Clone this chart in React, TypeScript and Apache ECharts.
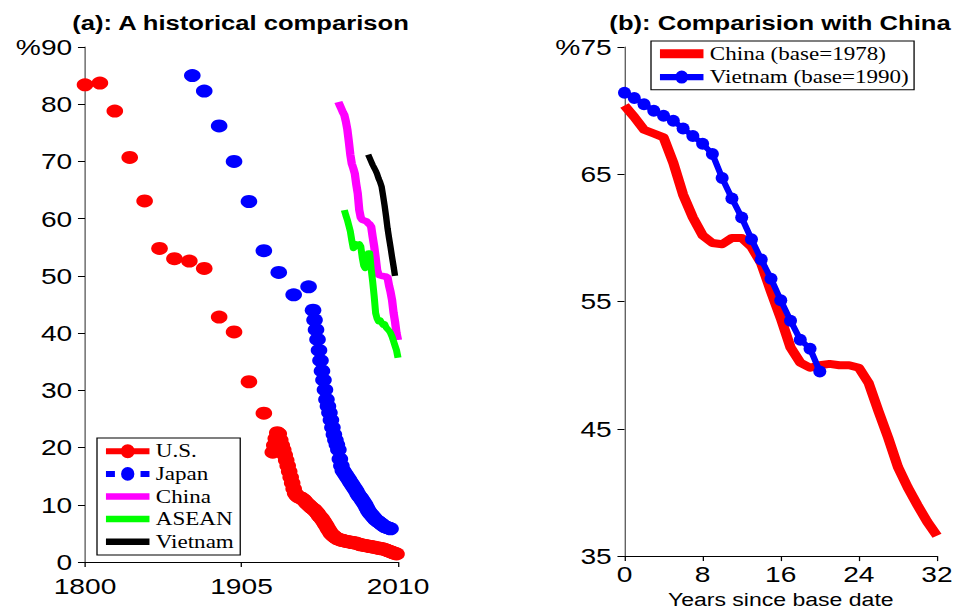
import React, { useEffect, useRef } from "react";
import * as echarts from "echarts";

// ---------------- data ----------------
// Panel (a): share (%) by calendar year
const usDecadeYears = [1800, 1810, 1820, 1830, 1840, 1850, 1860, 1870, 1880, 1890, 1900, 1910, 1920];
const usDecadeValues = [83.4, 83.7, 78.8, 70.7, 63.1, 54.8, 53.0, 52.6, 51.3, 42.8, 40.2, 31.5, 26.0];
const usAnnualStart = 1926;
const usAnnualValues = [
  19.2, 20.4, 21.6, 22.6, 22.4, 21.3, 20.4, 19.6, 18.7, 17.8,
  16.8, 15.8, 14.8, 13.8, 12.8, 12.0, 11.6, 11.4, 11.3, 11.2,
  11.0, 10.8, 10.5, 10.2, 10.0, 9.7, 9.5, 9.3, 9.1, 8.8,
  8.5, 8.1, 7.8, 7.5, 7.1, 6.7, 6.3, 5.8, 5.4, 5.0,
  4.7, 4.5, 4.3, 4.1, 4.0, 3.9, 3.8, 3.8, 3.7, 3.6,
  3.6, 3.5, 3.5, 3.4, 3.4, 3.3, 3.3, 3.2, 3.1, 3.0,
  3.0, 2.9, 2.9, 2.8, 2.8, 2.7, 2.7, 2.6, 2.6, 2.5,
  2.5, 2.4, 2.4, 2.3, 2.3, 2.2, 2.1, 2.0, 1.9, 1.8,
  1.7, 1.6, 1.5, 1.4,
];
const japanEarlyYears = [1872, 1880, 1890, 1900, 1910, 1920, 1930, 1940, 1950];
const japanEarlyValues = [85.0, 82.3, 76.2, 70.0, 63.0, 54.4, 50.6, 46.7, 48.1];
const japanAnnualStart = 1953;
const japanAnnualValues = [
  44.0, 42.3, 40.6, 38.9, 37.0, 35.2, 33.4, 31.8, 30.1, 28.4,
  27.2, 26.1, 24.8, 23.5, 22.3, 21.3, 20.5, 19.6, 18.0, 16.8,
  16.0, 15.6, 15.2, 14.8, 14.4, 14.0, 13.6, 13.2, 12.8, 12.4,
  11.9, 11.5, 11.2, 10.8, 10.4, 10.0, 9.5, 9.0, 8.6, 8.3,
  8.0, 7.7, 7.4, 7.2, 7.0, 6.8, 6.6, 6.4, 6.2, 6.1,
  6.0, 5.9, 5.8,
];
const chinaHistStart = 1970;
const chinaHistValues = [
  80.4, 79.8, 79.2, 78.6, 78.1, 77.0, 75.6, 73.5, 71.2, 69.6,
  68.8, 67.9, 66.0, 64.4, 61.5, 60.2, 59.8, 59.7, 59.6, 59.5,
  59.2, 59.0, 58.6, 56.8, 55.2, 53.2, 51.0, 50.2, 50.1, 50.0,
  50.0, 49.9, 49.9, 49.7, 48.3, 47.2, 45.8, 43.6, 42.0, 40.0,
  38.8,
];
const aseanStart = 1974;
const aseanValues = [
  61.5, 60.6, 59.8, 58.8, 57.8, 56.2, 54.8, 55.0, 55.6, 55.5,
  55.6, 55.2, 53.2, 51.8, 51.3, 52.8, 54.0, 54.0, 51.2, 49.0,
  46.5, 43.5, 42.5, 42.0, 42.3, 41.8, 41.4, 41.6, 41.0, 40.7,
  40.4, 40.0, 39.4, 38.6, 37.8, 37.0, 35.7,
];
const vietnamHistStart = 1990;
const vietnamHistValues = [
  71.2, 70.6, 70.0, 69.4, 68.9, 68.4, 67.8, 67.0, 66.4, 65.6,
  64.0, 62.3, 60.4, 58.3, 56.6, 55.0, 53.3, 51.7, 50.0,
];

// Panel (b): share (%) by years since base date
const chinaBaseValues = [
  70.4, 69.5, 68.5, 68.2, 67.9, 65.9, 63.4, 61.6, 60.2, 59.6,
  59.5, 60.0, 60.0, 59.3, 58.0, 55.8, 53.7, 51.4, 50.2, 49.8,
  50.0, 50.1, 50.0, 50.0, 49.8, 48.6, 46.4, 44.3, 42.0, 40.4,
  39.0, 37.7, 36.6,
];
const vietnamBaseValues = [
  71.4, 71.0, 70.5, 70.0, 69.6, 69.2, 68.6, 68.0, 67.4, 66.6,
  64.7, 63.1, 61.6, 59.9, 58.3, 56.8, 55.1, 53.5, 52.0, 51.3,
  49.5,
];

// Tick labels
const xTicksA = [1800, 1905, 2010];
const xTicksB = [0, 8, 16, 24, 32];
const yTicksB = [35, 45, 55, 65, 75];

// ---------------- layout helpers ----------------
const S = 1.28; // horizontal stretch of the reference picture
const IW = 957 / S;
const SANS = "'Liberation Sans', Arial, Helvetica, sans-serif";
const SERIF = "'Liberation Serif', 'Times New Roman', serif";
const ELLIPSE = "path://M0 50A50 50 0 1 1 100 50A50 50 0 1 1 0 50Z";

const ICON_US = "path://M0 0M0 4H34V10H0ZM11.5 7A5.5 7 0 1 1 22.5 7A5.5 7 0 1 1 11.5 7ZM34 14";
const ICON_JP = "path://M0 0M0 4H7V10H0ZM27 4H34V10H27ZM11.8 7A5.2 6.8 0 1 1 22.2 7A5.2 6.8 0 1 1 11.8 7ZM34 14";
const ICON_BAR = "path://M0 0M0 3.75H34V10.25H0ZM34 14";
const ICON_CN_B = "path://M0 0M0 2.5H34V11.5H0ZM34 14";
const ICON_VN_B = "path://M0 0M0 3.8H34V10.2H0ZM11.9 7A5.1 6.5 0 1 1 22.1 7A5.1 6.5 0 1 1 11.9 7ZM34 14";

const pairs = (years: number[], vals: number[]) => vals.map((v, i) => [years[i], v]);
const annual = (start: number, vals: number[]) => vals.map((v, i) => [start + i, v]);

export default function App() {
  const ref = useRef<HTMLDivElement>(null);

  useEffect(() => {
    if (!ref.current) return;
    const chart = echarts.init(ref.current, undefined, { renderer: "svg" });

    const axisLabelBase = { fontFamily: SANS, fontSize: 22, color: "#000" };

    const option: any = {
      animation: false,
      backgroundColor: "#fff",
      title: [
        {
          text: "(a): A historical comparison",
          left: 240.5 / S,
          top: 13,
          padding: 0,
          textAlign: "center",
          textVerticalAlign: "top",
          textStyle: { fontFamily: SANS, fontSize: 20, fontWeight: "bold", color: "#000" },
        },
        {
          text: "(b): Comparision with China",
          left: 780 / S,
          top: 13,
          padding: 0,
          textAlign: "center",
          textVerticalAlign: "top",
          textStyle: { fontFamily: SANS, fontSize: 20, fontWeight: "bold", color: "#000" },
        },
      ],
      legend: [
        {
          orient: "vertical",
          left: 97 / S,
          top: 438,
          padding: [2, 5, 2, 7],
          itemGap: 0,
          itemWidth: 34,
          itemHeight: 14,
          borderColor: "#000",
          borderWidth: 1,
          selectedMode: false,
          textStyle: { fontFamily: SERIF, fontSize: 18, color: "#000", lineHeight: 22.6 },
          data: [
            { name: "U.S.", icon: ICON_US, itemStyle: { color: "#ff0000", borderWidth: 0 } },
            { name: "Japan", icon: ICON_JP, itemStyle: { color: "#0000ff", borderWidth: 0 } },
            { name: "China", icon: ICON_BAR, itemStyle: { color: "#ff00ff", borderWidth: 0 } },
            { name: "ASEAN", icon: ICON_BAR, itemStyle: { color: "#00ff00", borderWidth: 0 } },
            { name: "Vietnam", icon: ICON_BAR, itemStyle: { color: "#000000", borderWidth: 0 } },
          ],
        },
        {
          orient: "vertical",
          left: 651 / S,
          top: 41,
          padding: [1, 4, 1, 7],
          itemGap: 0,
          itemWidth: 34,
          itemHeight: 14,
          borderColor: "#000",
          borderWidth: 1,
          selectedMode: false,
          textStyle: { fontFamily: SERIF, fontSize: 18, color: "#000", lineHeight: 23.4 },
          data: [
            { name: "China (base=1978)", icon: ICON_CN_B, itemStyle: { color: "#ff0000", borderWidth: 0 } },
            { name: "Vietnam (base=1990)", icon: ICON_VN_B, itemStyle: { color: "#0000ff", borderWidth: 0 } },
          ],
        },
      ],
      grid: [
        { left: 85 / S, top: 47, width: (398 - 85) / S, height: 515 },
        { left: 624.5 / S, top: 47, width: (937 - 624.5) / S, height: 515 },
      ],
      xAxis: [
        {
          type: "value",
          gridIndex: 0,
          min: 1800,
          max: 2010,
          axisLine: { show: true, onZero: false, lineStyle: { color: "#000", width: 1 } },
          axisTick: { show: true, length: 5, customValues: xTicksA, lineStyle: { color: "#000" } },
          axisLabel: {
            ...axisLabelBase,
            margin: 13,
            customValues: xTicksA,
            formatter: (v: number) => String(v),
          },
          splitLine: { show: false },
        },
        {
          type: "value",
          gridIndex: 1,
          min: 0,
          max: 32,
          interval: 8,
          name: "Years since base date",
          nameLocation: "middle",
          nameGap: 32,
          nameTextStyle: { fontFamily: SANS, fontSize: 18, color: "#000" },
          axisLine: { show: true, onZero: false, lineStyle: { color: "#000", width: 1 } },
          axisTick: { show: true, length: 5, customValues: xTicksB, lineStyle: { color: "#000" } },
          axisLabel: {
            ...axisLabelBase,
            margin: 7,
            customValues: xTicksB,
            formatter: (v: number) => String(v),
          },
          splitLine: { show: false },
        },
      ],
      yAxis: [
        {
          type: "value",
          gridIndex: 0,
          min: 0,
          max: 90,
          interval: 10,
          axisLine: { show: true, onZero: false, lineStyle: { color: "#555", width: 1 } },
          axisTick: { show: true, length: 5.5, lineStyle: { color: "#000" } },
          axisLabel: {
            ...axisLabelBase,
            margin: 10,
            formatter: (v: number) => (v === 90 ? "%90" : String(v)),
          },
          splitLine: { show: false },
        },
        {
          type: "value",
          gridIndex: 1,
          min: 35,
          max: 75,
          axisLine: { show: true, onZero: false, lineStyle: { color: "#555", width: 1 } },
          axisTick: { show: true, length: 5.5, customValues: yTicksB, lineStyle: { color: "#000" } },
          axisLabel: {
            ...axisLabelBase,
            margin: 10,
            customValues: yTicksB,
            formatter: (v: number) => (v === 75 ? "%75" : String(v)),
          },
          splitLine: { show: false },
        },
      ],
      series: [
        {
          name: "U.S.",
          type: "scatter",
          xAxisIndex: 0,
          yAxisIndex: 0,
          symbol: "circle",
          symbolSize: 13,
          clip: false,
          itemStyle: { color: "#ff0000", opacity: 1 },
          data: [...pairs(usDecadeYears, usDecadeValues), ...annual(usAnnualStart, usAnnualValues)],
        },
        {
          name: "Japan",
          type: "scatter",
          xAxisIndex: 0,
          yAxisIndex: 0,
          symbol: "circle",
          symbolSize: 13,
          clip: false,
          itemStyle: { color: "#0000ff", opacity: 1 },
          data: [...pairs(japanEarlyYears, japanEarlyValues), ...annual(japanAnnualStart, japanAnnualValues)],
        },
        {
          name: "China",
          type: "line",
          xAxisIndex: 0,
          yAxisIndex: 0,
          symbol: "none",
          clip: false,
          color: "#ff00ff",
          lineStyle: { color: "#ff00ff", width: 6.5, join: "round" },
          data: annual(chinaHistStart, chinaHistValues),
        },
        {
          name: "ASEAN",
          type: "line",
          xAxisIndex: 0,
          yAxisIndex: 0,
          symbol: "none",
          clip: false,
          color: "#00ff00",
          lineStyle: { color: "#00ff00", width: 5.5, join: "round" },
          data: annual(aseanStart, aseanValues),
        },
        {
          name: "Vietnam",
          type: "line",
          xAxisIndex: 0,
          yAxisIndex: 0,
          symbol: "none",
          clip: false,
          color: "#000000",
          lineStyle: { color: "#000000", width: 5, join: "round" },
          data: annual(vietnamHistStart, vietnamHistValues),
        },
        {
          name: "China (base=1978)",
          type: "line",
          xAxisIndex: 1,
          yAxisIndex: 1,
          symbol: "none",
          clip: false,
          color: "#ff0000",
          lineStyle: { color: "#ff0000", width: 8, join: "round" },
          data: chinaBaseValues.map((v, i) => [i, v]),
        },
        {
          name: "Vietnam (base=1990)",
          type: "line",
          xAxisIndex: 1,
          yAxisIndex: 1,
          symbol: ELLIPSE,
          symbolSize: [10.2, 12],
          showSymbol: true,
          clip: false,
          color: "#0000ff",
          itemStyle: { color: "#0000ff", borderWidth: 0 },
          lineStyle: { color: "#0000ff", width: 5, join: "round" },
          data: vietnamBaseValues.map((v, i) => [i, v]),
        },
      ],
    };

    chart.setOption(option);
    return () => chart.dispose();
  }, []);

  return (
    <div
      style={{
        position: "absolute",
        left: 0,
        top: 0,
        width: 957,
        height: 613,
        overflow: "hidden",
        background: "#fff",
      }}
    >
      <div
        ref={ref}
        style={{
          width: IW,
          height: 613,
          transform: `scaleX(${S})`,
          transformOrigin: "0 0",
        }}
      />
    </div>
  );
}
